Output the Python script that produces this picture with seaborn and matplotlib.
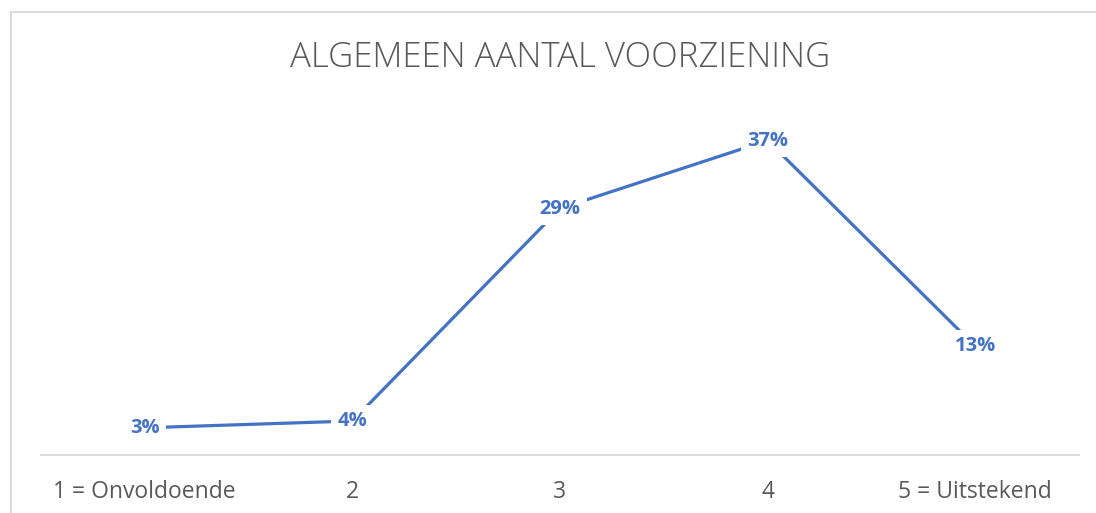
import matplotlib
matplotlib.use("Agg")
import matplotlib.pyplot as plt
import seaborn as sns
import pandas as pd
from matplotlib.patches import Rectangle

# data
categories = ["1 = Onvoldoende", "2", "3", "4", "5 = Uitstekend"]
share = [0.032, 0.040, 0.290, 0.370, 0.128]

line_blue = "#4472C4"
text_grey = "#595959"
rule_grey = "#D9D9D9"

sns.set_theme(style="white")
plt.rcParams["font.family"] = ["Open Sans", "DejaVu Sans"]

fig = plt.figure(figsize=(10.96, 5.13), dpi=100)
ax = fig.add_axes([41 / 1096, 58 / 513, 1038 / 1096, 340 / 513])

df = pd.DataFrame({"score": categories, "share": share})
sns.lineplot(data=df, x="score", y="share", sort=False, color=line_blue,
             linewidth=2.3, ax=ax)

# data labels sit on the points, white box cuts the line
for i, v in enumerate(share):
    ax.text(i, v, f"{round(v * 100):.0f}%", ha="center", va="center",
            fontsize=14.5, fontweight="bold", color=line_blue,
            bbox=dict(boxstyle="square,pad=0.3", fc="white", ec="none"))

ax.set_xlim(-0.5, len(categories) - 0.5)
ax.set_ylim(0, 0.40)
ax.set_yticks([])
ax.set_xlabel("")
ax.set_ylabel("")
ax.tick_params(axis="x", length=0, pad=18, labelsize=16.5, labelcolor=text_grey)
for s in ["top", "left", "right"]:
    ax.spines[s].set_visible(False)
ax.spines["bottom"].set_color(rule_grey)
ax.spines["bottom"].set_linewidth(1.3)

fig.text(560 / 1096, 1 - 58 / 513, "ALGEMEEN AANTAL VOORZIENING",
         ha="center", va="center", fontsize=25, color=text_grey,
         fontweight="light")

# chart frame (cropped on right and bottom)
fig.patches.append(Rectangle((11 / 1096, -0.1), 1.2, 1.1 - 12 / 513,
                             transform=fig.transFigure, fill=False,
                             ec=rule_grey, lw=1.3))

fig.savefig("out.png", dpi=100, facecolor="white")
